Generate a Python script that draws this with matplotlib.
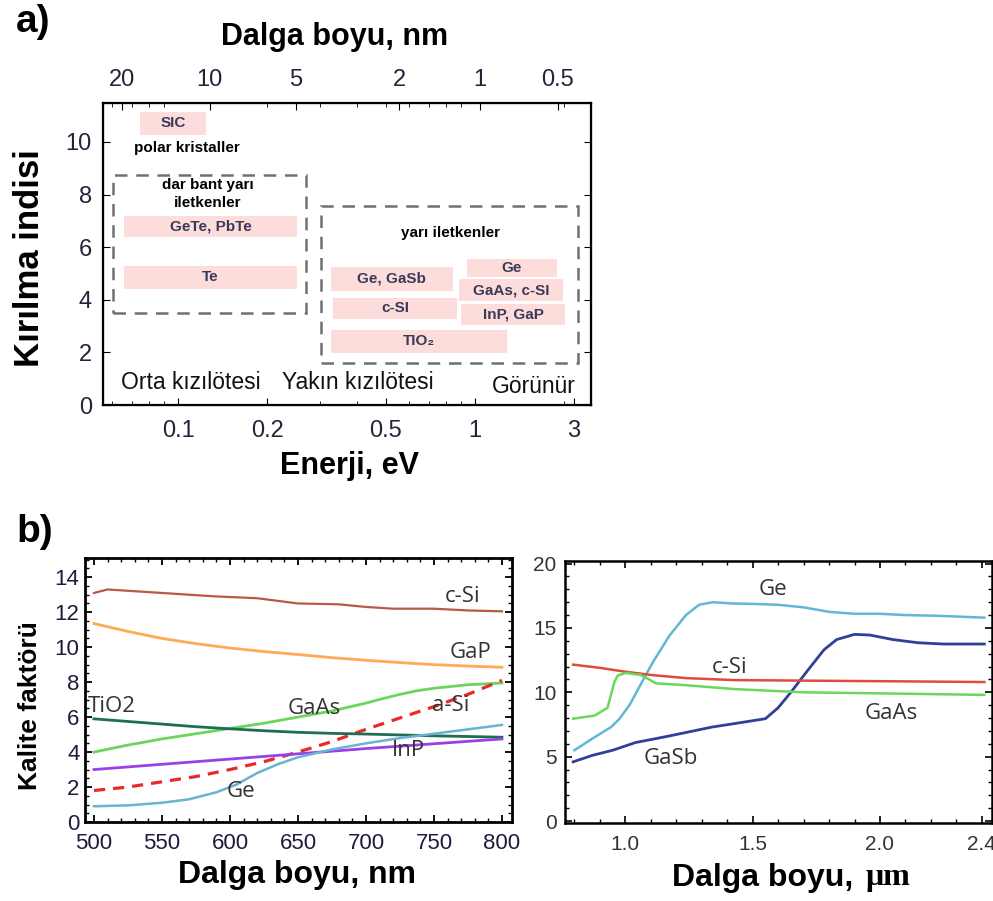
import matplotlib.pyplot as plt
from matplotlib.patches import Rectangle
from matplotlib.ticker import MultipleLocator, NullFormatter, FixedLocator

plt.rcParams['font.family'] = ['Liberation Sans', 'DejaVu Sans']

#region: data - panel a (refractive index vs photon energy)
energy_ticks = [0.1, 0.2, 0.5, 1.0, 2.15]
energy_labels = ['0.1', '0.2', '0.5', '1', '3']
wl_ticks = [0.0647, 0.128, 0.2495, 0.555, 1.04, 1.90]
wl_labels = ['20', '10', '5', '2', '1', '0.5']

mat_names = ['SIC', 'GeTe, PbTe', 'Te', 'Ge, GaSb', 'c-SI', 'TIO₂', 'Ge', 'GaAs, c-SI', 'InP, GaP']
mat_e_lo = [0.0745, 0.0658, 0.0658, 0.327, 0.3325, 0.327, 0.940, 0.883, 0.897]
mat_e_hi = [0.124, 0.2518, 0.2518, 0.843, 0.869, 1.282, 1.888, 1.977, 2.01]
mat_n_lo = [10.27, 6.39, 4.41, 4.33, 3.27, 1.98, 4.87, 3.95, 3.04]
mat_n_hi = [11.14, 7.19, 5.29, 5.25, 4.07, 2.85, 5.55, 4.79, 3.84]

box_e_lo = [0.0604, 0.303]
box_e_hi = [0.270, 2.223]
box_n_lo = [3.50, 1.60]
box_n_hi = [8.75, 7.57]

group_names = ['polar kristaller', 'dar bant yarı\niletkenler', 'yarı iletkenler']
group_e = [0.107, 0.126, 0.824]
group_n = [9.77, 8.02, 6.54]

region_names = ['Orta kızılötesi', 'Yakın kızılötesi', 'Görünür']
region_e = [0.1106, 0.4035, 1.58]
region_n = [0.84, 0.84, 0.72]
#endregion

#region: data - panel b left (visible)
wl_csi = [500, 510, 530, 560, 590, 620, 650, 680, 700, 720, 750, 775, 800]
q_csi = [13.1, 13.3, 13.2, 13.05, 12.9, 12.8, 12.5, 12.45, 12.3, 12.2, 12.2, 12.1, 12.05]
wl_gap = [500, 525, 550, 575, 600, 625, 650, 675, 700, 725, 750, 775, 800]
q_gap = [11.35, 10.9, 10.5, 10.2, 9.95, 9.75, 9.58, 9.4, 9.25, 9.12, 9.0, 8.92, 8.85]
wl_gaas = [500, 525, 550, 575, 600, 625, 650, 675, 700, 712, 725, 737, 750, 775, 800]
q_gaas = [4.0, 4.4, 4.75, 5.05, 5.35, 5.65, 6.0, 6.35, 6.8, 7.05, 7.3, 7.5, 7.65, 7.85, 7.95]
wl_asi = [500, 525, 550, 575, 600, 625, 650, 675, 700, 725, 750, 775, 800]
q_asi = [1.8, 2.0, 2.3, 2.6, 3.0, 3.45, 4.0, 4.6, 5.3, 5.95, 6.6, 7.3, 8.1]
wl_tio2 = [500, 525, 550, 575, 600, 625, 650, 675, 700, 750, 800]
q_tio2 = [5.9, 5.75, 5.6, 5.45, 5.33, 5.22, 5.13, 5.07, 5.03, 4.93, 4.85]
wl_inp = [500, 600, 700, 800]
q_inp = [3.0, 3.6, 4.2, 4.75]
wl_ge = [500, 525, 550, 570, 590, 605, 620, 635, 650, 675, 700, 725, 750, 775, 800]
q_ge = [0.9, 0.95, 1.1, 1.3, 1.7, 2.15, 2.8, 3.3, 3.7, 4.15, 4.5, 4.8, 5.05, 5.3, 5.55]

left_labels = ['c-Si', 'GaP', 'a-Si', 'GaAs', 'TiO2', 'InP', 'Ge']
left_lab_x = [771, 777, 762, 662, 513, 731, 608]
left_lab_y = [12.9, 9.7, 6.65, 6.5, 6.6, 4.08, 1.75]
#endregion

#region: data - panel b right (infrared)
um_ge = [0.80, 0.87, 0.944, 0.975, 1.016, 1.06, 1.107, 1.173, 1.238, 1.29, 1.343, 1.42, 1.5,
         1.6, 1.7, 1.8, 1.9, 2.0, 2.1, 2.22, 2.41]
q2_ge = [5.5, 6.4, 7.3, 7.9, 9.0, 10.6, 12.3, 14.4, 16.0, 16.8, 17.0, 16.9, 16.87,
         16.8, 16.6, 16.25, 16.1, 16.1, 16.0, 15.95, 15.8]
um_gasb = [0.795, 0.87, 0.95, 1.04, 1.17, 1.34, 1.47, 1.55, 1.6, 1.65, 1.72, 1.78, 1.83,
           1.9, 1.96, 2.05, 2.15, 2.25, 2.41]
q2_gasb = [4.6, 5.1, 5.5, 6.1, 6.6, 7.3, 7.7, 7.95, 8.8, 10.0, 11.8, 13.3, 14.1,
           14.5, 14.45, 14.1, 13.85, 13.75, 13.75]
um_csi = [0.795, 0.9, 1.0, 1.1, 1.24, 1.43, 1.76, 2.1, 2.41]
q2_csi = [12.15, 11.9, 11.6, 11.35, 11.1, 10.95, 10.9, 10.85, 10.8]
um_gaas = [0.795, 0.88, 0.93, 0.957, 0.97, 1.0, 1.06, 1.094, 1.12, 1.24, 1.43, 1.7, 2.0, 2.41]
q2_gaas = [7.95, 8.2, 8.8, 10.8, 11.3, 11.5, 11.35, 11.0, 10.7, 10.55, 10.25, 10.0, 9.92, 9.8]

right_labels = ['Ge', 'c-Si', 'GaAs', 'GaSb']
right_lab_x = [1.58, 1.41, 2.045, 1.18]
right_lab_y = [17.95, 11.9, 8.33, 4.87]
#endregion

W, H = 993, 901
fig = plt.figure(figsize=(W / 100, H / 100), dpi=100)

def px_rect(x0, y0, x1, y1):
    return [x0 / W, 1 - y1 / H, (x1 - x0) / W, (y1 - y0) / H]

tick_col = '#23233a'

#region: panel a
ax = fig.add_axes(px_rect(103, 103, 591, 405))
ax.set_xscale('log')
ax.set_xlim(0.0559, 2.458)
ax.set_ylim(0, 11.48)
for s in ax.spines.values():
    s.set_linewidth(1.6)
ax.xaxis.set_major_locator(FixedLocator(energy_ticks))
ax.set_xticklabels(energy_labels)
ax.xaxis.set_minor_formatter(NullFormatter())
ax.set_yticks([0, 2, 4, 6, 8, 10])
ax.tick_params(which='both', direction='in', top=False, right=True, colors='black',
               labelcolor=tick_col, labelsize=17)
ax.tick_params(axis='x', which='major', pad=11, length=5)
ax.tick_params(axis='y', which='major', pad=8, length=5)
ax.tick_params(which='minor', length=3)

top = ax.twiny()
top.set_xscale('log')
top.set_xlim(ax.get_xlim())
top.xaxis.set_major_locator(FixedLocator(wl_ticks))
top.set_xticklabels(wl_labels)
top.xaxis.set_minor_formatter(NullFormatter())
top.tick_params(which='both', direction='in', labelcolor=tick_col, labelsize=17, pad=9)
top.tick_params(which='major', length=5)
top.tick_params(which='minor', length=3)

for nm, e0, e1, n0, n1 in zip(mat_names, mat_e_lo, mat_e_hi, mat_n_lo, mat_n_hi):
    ax.add_patch(Rectangle((e0, n0), e1 - e0, n1 - n0, facecolor='#fddcdc', edgecolor='none', zorder=1))
    ax.text((e0 * e1) ** 0.5, (n0 + n1) / 2, nm, ha='center', va='center', fontsize=11,
            fontweight='bold', color='#3a3a58', zorder=2)

for e0, e1, n0, n1 in zip(box_e_lo, box_e_hi, box_n_lo, box_n_hi):
    ax.add_patch(Rectangle((e0, n0), e1 - e0, n1 - n0, facecolor='none', edgecolor='#707070',
                           lw=1.8, ls=(0, (5, 3.5)), zorder=1))

for nm, e, n in zip(group_names, group_e, group_n):
    ax.text(e, n, nm, ha='center', va='center', fontsize=11, fontweight='bold',
            linespacing=1.35)

for nm, e, n in zip(region_names, region_e, region_n):
    ax.text(e, n, nm, ha='center', va='center', fontsize=16.5, color='#111111')

fig.text(335 / W, 1 - 37 / H, 'Dalga boyu, nm', ha='center', va='center', fontsize=22, fontweight='bold')
fig.text(350 / W, 1 - 466 / H, 'Enerji, eV', ha='center', va='center', fontsize=22, fontweight='bold')
fig.text(30 / W, 1 - 258 / H, 'Kırılma indisi', ha='center', va='center', rotation=90,
         fontsize=25, fontweight='bold')
fig.text(33 / W, 1 - 22 / H, 'a)', ha='center', va='center', fontsize=28, fontweight='bold')
fig.text(35 / W, 1 - 532 / H, 'b)', ha='center', va='center', fontsize=28, fontweight='bold')
#endregion

#region: panel b left
bl = fig.add_axes(px_rect(85, 558, 512, 822))
bl.plot(wl_csi, q_csi, color='#b85a48', lw=1.6)
bl.plot(wl_gap, q_gap, color='#ffaa55', lw=2.0)
bl.plot(wl_gaas, q_gaas, color='#6ad65c', lw=2.0)
bl.plot(wl_asi, q_asi, color='#e82a2a', lw=2.3, ls=(0, (3.5, 2.5)))
bl.plot(wl_tio2, q_tio2, color='#1d6e52', lw=2.0)
bl.plot(wl_inp, q_inp, color='#9b40e6', lw=2.0)
bl.plot(wl_ge, q_ge, color='#6ab4d0', lw=1.8)
for nm, x, y in zip(left_labels, left_lab_x, left_lab_y):
    bl.text(x, y, nm, ha='center', va='center', fontsize=16, color='#333333', family='Open Sans')
bl.set_xlim(493.4, 807.4)
bl.set_ylim(0, 15.1)
bl.xaxis.set_major_locator(MultipleLocator(50))
bl.xaxis.set_minor_locator(MultipleLocator(10))
bl.yaxis.set_major_locator(MultipleLocator(2))
bl.yaxis.set_minor_locator(MultipleLocator(0.5))
bl.tick_params(which='both', direction='in', top=True, right=True, labelcolor='#1c1c3c', labelsize=16)
bl.tick_params(which='major', length=5, width=1.3)
bl.tick_params(which='minor', length=3, width=1.0)
bl.tick_params(axis='x', pad=8)
bl.tick_params(axis='y', pad=4)
for s in bl.spines.values():
    s.set_linewidth(2.0)
fig.text(30 / W, 1 - 706 / H, 'Kalite faktörü', ha='center', va='center', rotation=90,
         fontsize=19, fontweight='bold')
fig.text(297 / W, 1 - 875 / H, 'Dalga boyu, nm', ha='center', va='center', fontsize=23, fontweight='bold')
#endregion

#region: panel b right
br = fig.add_axes(px_rect(565, 561, 992, 823))
br.plot(um_ge, q2_ge, color='#62b6d8', lw=1.8)
br.plot(um_gasb, q2_gasb, color='#2e4098', lw=2.0)
br.plot(um_csi, q2_csi, color='#dd4c3c', lw=1.8)
br.plot(um_gaas, q2_gaas, color='#6ad85a', lw=1.8)
for nm, x, y in zip(right_labels, right_lab_x, right_lab_y):
    br.text(x, y, nm, ha='center', va='center', fontsize=16, color='#333333', family='Open Sans')
br.set_xlim(0.763, 2.44)
br.set_ylim(-0.15, 20.2)
br.set_xticks([1.0, 1.5, 2.0, 2.4])
br.set_xticklabels(['1.0', '1.5', '2.0', '2.4'])
br.xaxis.set_minor_locator(MultipleLocator(0.1))
br.yaxis.set_major_locator(MultipleLocator(5))
br.yaxis.set_minor_locator(MultipleLocator(1))
br.tick_params(which='both', direction='in', top=True, right=True, labelcolor='#333333', labelsize=15)
br.tick_params(which='major', length=5, width=1.2)
br.tick_params(which='minor', length=3, width=1.0)
br.tick_params(axis='x', pad=9)
br.tick_params(axis='y', pad=6)
for s in br.spines.values():
    s.set_linewidth(1.8)
fig.text(853 / W, 1 - 878 / H, 'Dalga boyu,', ha='right', va='center', fontsize=23, fontweight='bold')
fig.text(866 / W, 1 - 878 / H, 'μm', ha='left', va='center', fontsize=23, fontweight='bold',
         family=['Liberation Serif', 'DejaVu Serif'])
#endregion

fig.savefig('out.png', dpi=100)
